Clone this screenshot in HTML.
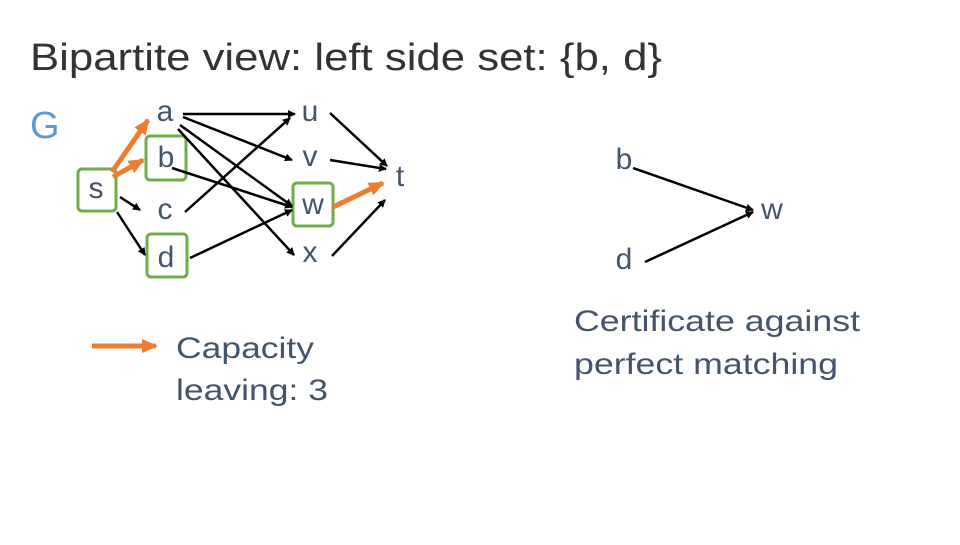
<!DOCTYPE html>
<html><head><style>
body{margin:0;width:960px;height:540px;background:#fff;overflow:hidden}
</style></head><body>
<svg width="960" height="540" viewBox="0 0 960 540" xmlns="http://www.w3.org/2000/svg" font-family="Liberation Sans, sans-serif">
<defs>
<marker id="k" markerWidth="8" markerHeight="8" refX="7" refY="4" orient="auto" markerUnits="userSpaceOnUse"><path d="M0,0 L8,4 L0,8 z" fill="#000"/></marker>
<marker id="o" markerWidth="16" markerHeight="14" refX="14" refY="7" orient="auto" markerUnits="userSpaceOnUse"><path d="M0,0 L16,7 L0,14 z" fill="#ED7D31"/></marker>
</defs>
<text x="30" y="70" font-size="38" fill="#333" textLength="632" lengthAdjust="spacingAndGlyphs">Bipartite view: left side set: {b, d}</text>
<text x="30" y="138" font-size="38" fill="#5B9BD5">G</text>
<g fill="none" stroke="#70AD47" stroke-width="3">
<rect x="78" y="169" width="38" height="42" rx="4"/>
<rect x="146" y="136" width="40" height="44" rx="4"/>
<rect x="147" y="234" width="40" height="43" rx="4"/>
<rect x="293" y="183" width="40" height="43" rx="4"/>
</g>
<g font-size="30" fill="#44546A" text-anchor="middle">
<text x="96" y="198">s</text>
<text x="165" y="121">a</text>
<text x="166" y="167">b</text>
<text x="165" y="219">c</text>
<text x="166" y="267">d</text>
<text x="310" y="121">u</text>
<text x="310" y="166">v</text>
<text x="313" y="214">w</text>
<text x="310" y="262">x</text>
<text x="400" y="186">t</text>
<text x="624" y="169">b</text>
<text x="772" y="219">w</text>
<text x="624" y="269">d</text>
</g>
<g stroke="#000" stroke-width="2.5" marker-end="url(#k)">
<line x1="120" y1="197" x2="140" y2="210"/>
<line x1="117" y1="212" x2="145" y2="255"/>
<line x1="183" y1="114" x2="295" y2="114"/>
<line x1="183" y1="117" x2="292" y2="160"/>
<line x1="180" y1="125" x2="292" y2="206"/>
<line x1="178" y1="129" x2="294" y2="255"/>
<line x1="172" y1="168" x2="292" y2="207"/>
<line x1="185" y1="212" x2="290" y2="118"/>
<line x1="190" y1="258" x2="292" y2="210"/>
<line x1="330" y1="113" x2="387" y2="166"/>
<line x1="330" y1="160" x2="386" y2="169"/>
<line x1="332" y1="256" x2="385" y2="200"/>
<line x1="633" y1="168" x2="753" y2="210"/>
<line x1="645" y1="262" x2="753" y2="212"/>
</g>
<g stroke="#ED7D31" stroke-width="5" marker-end="url(#o)">
<line x1="112" y1="172" x2="148" y2="120"/>
<line x1="113" y1="177" x2="143" y2="160"/>
<line x1="333" y1="207" x2="383" y2="183"/>
<line x1="92" y1="346" x2="156" y2="346"/>
</g>
<g font-size="30" fill="#44546A" lengthAdjust="spacingAndGlyphs">
<text x="176" y="358" textLength="138" lengthAdjust="spacingAndGlyphs">Capacity</text>
<text x="176" y="400" textLength="152" lengthAdjust="spacingAndGlyphs">leaving: 3</text>
<text x="574" y="331" textLength="286" lengthAdjust="spacingAndGlyphs">Certificate against</text>
<text x="574" y="374" textLength="264" lengthAdjust="spacingAndGlyphs">perfect matching</text>
</g>
</svg>
</body></html>
